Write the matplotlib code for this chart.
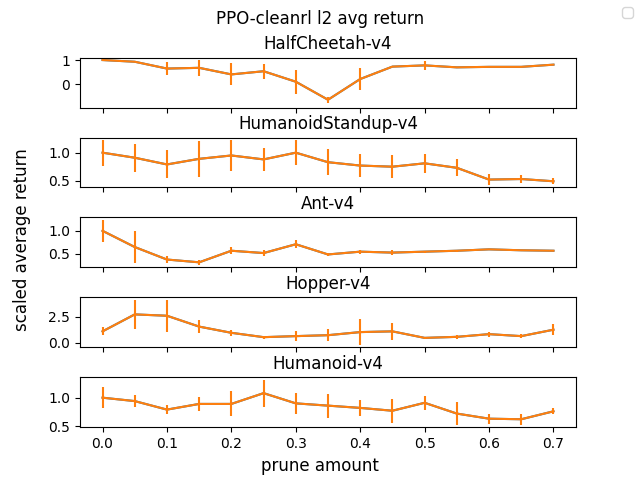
import matplotlib
matplotlib.use("Agg")
import matplotlib.pyplot as plt
import numpy as np

prune = [0.0, 0.05, 0.1, 0.15, 0.2, 0.25, 0.3, 0.35, 0.4, 0.45, 0.5, 0.55, 0.6, 0.65, 0.7]
envs = ["HalfCheetah-v4", "HumanoidStandup-v4", "Ant-v4", "Hopper-v4", "Humanoid-v4"]

halfcheetah_mean = [1.0, 0.93, 0.65, 0.68, 0.41, 0.54, 0.11, -0.63, 0.22, 0.73, 0.78, 0.70, 0.72, 0.72, 0.81]
halfcheetah_err = [0.02, 0.02, 0.26, 0.34, 0.45, 0.30, 0.49, 0.12, 0.44, 0.03, 0.20, 0.03, 0.02, 0.02, 0.03]

standup_mean = [1.0, 0.91, 0.79, 0.89, 0.95, 0.88, 1.0, 0.83, 0.77, 0.75, 0.81, 0.73, 0.52, 0.53, 0.49]
standup_err = [0.23, 0.25, 0.25, 0.32, 0.27, 0.21, 0.22, 0.23, 0.21, 0.20, 0.17, 0.15, 0.10, 0.07, 0.05]

ant_mean = [1.0, 0.65, 0.38, 0.32, 0.57, 0.52, 0.71, 0.49, 0.55, 0.53, 0.55, 0.57, 0.60, 0.58, 0.57]
ant_err = [0.24, 0.34, 0.08, 0.06, 0.07, 0.07, 0.09, 0.03, 0.04, 0.05, 0.02, 0.02, 0.01, 0.01, 0.01]

hopper_mean = [1.09, 2.73, 2.60, 1.55, 0.95, 0.53, 0.63, 0.72, 1.02, 1.09, 0.46, 0.56, 0.82, 0.63, 1.25]
hopper_err = [0.38, 1.43, 1.55, 0.61, 0.31, 0.15, 0.46, 0.58, 1.25, 0.80, 0.10, 0.20, 0.23, 0.16, 0.53]

humanoid_mean = [1.0, 0.94, 0.79, 0.89, 0.89, 1.08, 0.90, 0.86, 0.82, 0.77, 0.91, 0.72, 0.63, 0.62, 0.76]
humanoid_err = [0.18, 0.11, 0.08, 0.13, 0.22, 0.24, 0.19, 0.21, 0.14, 0.21, 0.12, 0.20, 0.09, 0.10, 0.05]

halfcheetah_ylim = (-0.95, 1.10)

means = [halfcheetah_mean, standup_mean, ant_mean, hopper_mean, humanoid_mean]
errs = [halfcheetah_err, standup_err, ant_err, hopper_err, humanoid_err]

fig, axes = plt.subplots(5, 1, sharex=True, figsize=(6.4, 4.8), dpi=100)
fig.subplots_adjust(left=0.125, right=0.9, top=0.88, bottom=0.11, hspace=0.6)
for ax, name, m, e in zip(axes, envs, means, errs):
    ax.plot(prune, m)
    ax.errorbar(prune, m, yerr=e)
    ax.set_title(name)
axes[0].set_ylim(*halfcheetah_ylim)

fig.suptitle("PPO-cleanrl l2 avg return")
fig.supxlabel("prune amount")
fig.supylabel("scaled average return")
fig.legend()
fig.savefig("out.png")
